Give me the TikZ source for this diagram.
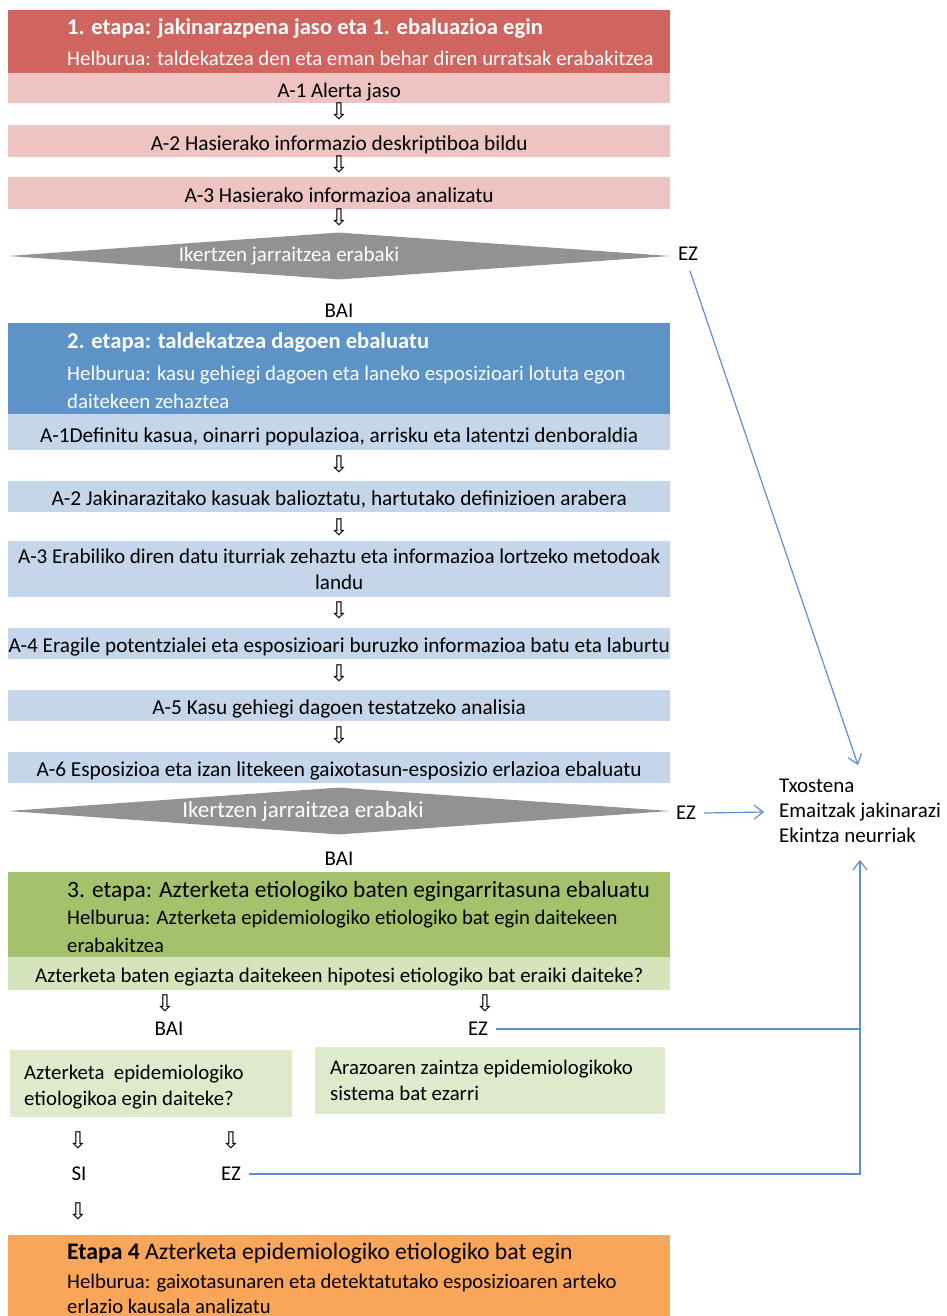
\documentclass[tikz,border=0pt]{standalone}
\usepackage{fontspec}
\setmainfont{Carlito}
\newfontfamily\arrowfont{DejaVu Sans}
\usetikzlibrary{arrows.meta,shapes.geometric}

\definecolor{redhead}{HTML}{D0655F}
\definecolor{redrow}{HTML}{EDC4C2}
\definecolor{greydec}{HTML}{929292}
\definecolor{bluehead}{HTML}{5E93C7}
\definecolor{bluerow}{HTML}{C5D6EA}
\definecolor{greenhead}{HTML}{A3C26B}
\definecolor{greenrow}{HTML}{D6E4BC}
\definecolor{greenbox}{HTML}{DFE9CC}
\definecolor{orangehead}{HTML}{FAA65A}
\definecolor{connblue}{HTML}{5B8FCF}

\newcommand{\fs}[2]{\fontsize{#1}{#2}\selectfont}

\begin{document}
\begin{tikzpicture}[x=1pt,y=-1pt,
  band/.style={fill=#1, draw=none, inner sep=0pt, minimum width=662pt, anchor=north west},
  rowbox/.style={band=#1, align=center, font=\fs{21.3}{26}},
  rowone/.style={rowbox=#1, text height=19pt, text depth=0pt},
  rowtwo/.style={rowbox=#1, text height=17pt, text depth=0pt},
  htitle/.style={anchor=west, inner sep=0pt, text=white, font=\bfseries\fs{22.6}{26}},
  hsub/.style={anchor=west, inner sep=0pt, text=white, font=\fs{20.8}{26}},
  dtitle/.style={anchor=west, inner sep=0pt, font=\fs{20.7}{26}},
  dsub/.style={anchor=north west, inner sep=0pt, align=left, font=\fs{20.8}{26}},
  decision/.style={diamond, fill=greydec, draw=none, inner sep=0pt, minimum width=662pt, minimum height=47pt},
  dtext/.style={inner sep=0pt, text=white},
  lbl/.style={inner sep=1pt, font=\fs{21}{26}},
  ezl/.style={lbl, inner xsep=8pt},
  dn/.style={inner sep=0pt, font=\arrowfont\fs{23}{23}},
  conn/.style={draw=connblue, line width=1.2pt, -{Straight Barb[length=9pt,width=14pt]}},
  link/.style={draw=connblue, line width=1.2pt},
  smallbox/.style={fill=greenbox, draw=none, anchor=north west, inner sep=0pt}
]
\useasboundingbox (0,0) rectangle (946,1316);

% ---------- stage 1 ----------
\node[band=redhead, minimum height=63pt] (h1) at (8,10) {};
\node[htitle] (h1t) at (67,28) {1. etapa: jakinarazpena jaso eta 1. ebaluazioa egin};
\node[hsub] (h1s) at (67,58) {Helburua: taldekatzea den eta eman behar diren urratsak erabakitzea};

\node[rowone=redrow, minimum height=30pt, font=\fs{20.8}{26}] (s1a1) at (8,73) {A-1 Alerta jaso};
\node[dn] (s1d1) at (339,111) {⇩};
\node[rowone=redrow, minimum height=32pt] (s1a2) at (8,125) {A-2 Hasierako informazio deskriptiboa bildu};
\node[dn] (s1d2) at (339,164) {⇩};
\node[rowone=redrow, minimum height=32pt] (s1a3) at (8,177) {A-3 Hasierako informazioa analizatu};
\node[dn] (s1d3) at (339,217) {⇩};

\node[decision] (dec1) at (339,256) {};
\node[dtext, font=\fs{21}{26}] (dec1t) at (289,256) {Ikertzen jarraitzea erabaki};
\node[lbl] (ez1) at (688,254) {EZ};
\node[lbl] (bai1) at (339,311) {BAI};

% ---------- stage 2 ----------
\node[band=bluehead, minimum height=91pt] (h2) at (8,323) {};
\node[htitle] (h2t) at (67,342) {2. etapa: taldekatzea dagoen ebaluatu};
\node[hsub] (h2s1) at (67,375) {Helburua: kasu gehiegi dagoen eta laneko esposizioari lotuta egon};
\node[hsub] (h2s2) at (67,401) {daitekeen zehaztea};

\node[rowbox=bluerow, minimum height=36pt, text height=21pt, text depth=0pt] (s2a1) at (8,414) {A-1Definitu kasua, oinarri populazioa, arrisku eta latentzi denboraldia};
\node[dn] (s2d1) at (339,464) {⇩};
\node[rowtwo=bluerow, minimum height=31pt] (s2a2) at (8,481) {A-2 Jakinarazitako kasuak balioztatu, hartutako definizioen arabera};
\node[dn] (s2d2) at (339,527) {⇩};
\node[rowbox=bluerow, minimum height=56pt, font=\fs{21.1}{26}] (s2a3) at (8,541) {A-3 Erabiliko diren datu iturriak zehaztu eta informazioa lortzeko metodoak\\landu};
\node[dn] (s2d3) at (339,610) {⇩};
\node[rowtwo=bluerow, minimum height=31pt, font=\fs{21.2}{26}] (s2a4) at (8,628) {A-4 Eragile potentzialei eta esposizioari buruzko informazioa batu eta laburtu};
\node[dn] (s2d4) at (339,673) {⇩};
\node[rowtwo=bluerow, minimum height=31pt] (s2a5) at (8,690) {A-5 Kasu gehiegi dagoen testatzeko analisia};
\node[dn] (s2d5) at (339,735) {⇩};
\node[rowtwo=bluerow, minimum height=31pt] (s2a6) at (8,752) {A-6 Esposizioa eta izan litekeen gaixotasun-esposizio erlazioa ebaluatu};

\node[decision] (dec2) at (339,811) {};
\node[dtext, font=\fs{23}{26}] (dec2t) at (303,811) {Ikertzen jarraitzea erabaki};
\node[ezl] (ez2) at (686,813) {EZ};
\node[lbl] (bai2) at (339,859) {BAI};

% ---------- report ----------
\node[anchor=west, inner sep=0pt, align=left, font=\fs{21}{25}] (rep) at (779,811) {Txostena\\Emaitzak jakinarazi\\Ekintza neurriak};
\coordinate (repw) at (764,812);
\coordinate (reptop) at (858,765);
\coordinate (repbot) at (860,860);

% ---------- stage 3 ----------
\node[band=greenhead, minimum height=85pt] (h3) at (8,872) {};
\node[dtitle, font=\fs{23.4}{26}] (h3t) at (67,891) {3. etapa: Azterketa etiologiko baten egingarritasuna ebaluatu};
\node[dtitle] (h3s1) at (67,919) {Helburua: Azterketa epidemiologiko etiologiko bat egin daitekeen};
\node[dtitle] (h3s2) at (67,945) {erabakitzea};
\node[rowtwo=greenrow, minimum height=33pt, font=\fs{20.9}{26}] (s3q) at (8,957) {Azterketa baten egiazta daitekeen hipotesi etiologiko bat eraiki daiteke?};

\node[dn] (s3d1) at (165,1003) {⇩};
\node[dn] (s3d2) at (485,1003) {⇩};
\node[lbl] (bai3) at (169,1029) {BAI};
\node[ezl] (ez3) at (478,1029) {EZ};

\node[smallbox, minimum width=282pt, minimum height=67pt] (qbox) at (10,1050) {};
\node[dsub] (qboxt) at (24,1065) {Azterketa\ \ epidemiologiko\\etiologikoa egin daiteke?};
\node[smallbox, minimum width=350pt, minimum height=67pt] (sbox) at (315,1047) {};
\node[dsub] (sboxt) at (330,1060) {Arazoaren zaintza epidemiologikoko\\sistema bat ezarri};

\node[dn] (s3d3) at (78,1140) {⇩};
\node[dn] (s3d4) at (231,1140) {⇩};
\node[lbl] (si) at (79,1174) {SI};
\node[ezl] (ez4) at (231,1174) {EZ};
\node[dn] (s3d5) at (78,1211) {⇩};

% ---------- stage 4 ----------
\node[band=orangehead, minimum height=82pt] (h4) at (8,1235) {};
\node[dtitle, font=\fs{23.7}{26}] (h4t) at (67,1253) {\textbf{Etapa 4} Azterketa epidemiologiko etiologiko bat egin};
\node[dtitle] (h4s1) at (67,1283) {Helburua: gaixotasunaren eta detektatutako esposizioaren arteko};
\node[dtitle] (h4s2) at (67,1306) {erlazio kausala analizatu};

% ---------- connectors ----------
\draw[conn] ([shift={(2pt,-9pt)}]ez1.south) -- (reptop);
\draw[conn] (ez2.east) -- (repw);
\draw[link] (ez3.east) -- (ez3.east -| repbot);
\draw[conn] (ez4.east) -| (repbot);
\end{tikzpicture}
\end{document}
